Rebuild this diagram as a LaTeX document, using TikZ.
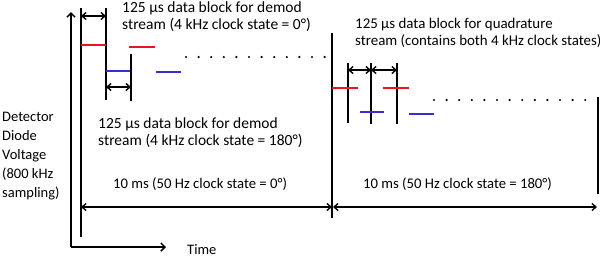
\documentclass[tikz,border=0pt]{standalone}
\usepackage{fontspec}
\setmainfont{Carlito}
\usetikzlibrary{arrows.meta}
\definecolor{sigred}{HTML}{E8141E}
\definecolor{sigblue}{HTML}{3A2DD0}
\begin{document}
\begin{tikzpicture}[x=1pt,y=-1pt,
  axis/.style={line width=1.5pt,black},
  bar/.style={line width=1.6pt,black},
  dimarrow/.style={line width=1.4pt,black,{Straight Barb[length=4pt,width=7pt]}-{Straight Barb[length=4pt,width=7pt]}},
  redlvl/.style={line width=2.6pt,sigred},
  bluelvl/.style={line width=2.6pt,sigblue},
  dots/.style={line width=2.4pt,line cap=round,dash pattern=on 0pt off 12.6pt},
  lbl/.style={anchor=base west,inner sep=0pt,align=left,font=\fontsize{14.5}{17}\selectfont},
  biglbl/.style={lbl,font=\fontsize{15.5}{16.5}\selectfont}]
\useasboundingbox (0,0) rectangle (600,258);
% axes
\coordinate (origin) at (71,247);
\coordinate (ytip) at (71,12);
\coordinate (xtip) at (166,247);
\draw[axis,-{Straight Barb[length=4pt,width=8pt]}] (origin) -- (ytip);
\draw[axis,-{Straight Barb[length=4pt,width=8pt]}] (origin) -- (xtip);
\node[lbl] (time) at (187,254) {Time};
\node[lbl,font=\fontsize{14.5}{18.8}\selectfont] (ylab) at (2,197) {Detector\\Diode\\Voltage\\(800 kHz\\sampling)};
% main vertical lines
\coordinate (s0t) at (81,8);   \coordinate (s0b) at (81,237);
\coordinate (divt) at (332,33); \coordinate (divb) at (332,218);
\coordinate (endt) at (598,97); \coordinate (endb) at (598,194);
\draw[bar] (s0t) -- (s0b);
\draw[bar] (divt) -- (divb);
\draw[bar] (endt) -- (endb);
% 10 ms arrows
\coordinate (a0) at (81,207); \coordinate (a1) at (332,207);
\coordinate (a2) at (333,207); \coordinate (a3) at (597,207);
\draw[dimarrow] (a0) -- (a1);
\draw[dimarrow] (a2) -- (a3);
\node[lbl,font=\fontsize{14.7}{17}\selectfont] (t10a) at (113,188) {10 ms (50 Hz clock state = 0°)};
\node[lbl,font=\fontsize{14.7}{17}\selectfont] (t10b) at (363,188) {10 ms (50 Hz clock state = 180°)};
% left section
\coordinate (l1t) at (106,8); \coordinate (l1b) at (106,100);
\coordinate (l2t) at (131,54); \coordinate (l2b) at (131,101);
\draw[bar] (l1t) -- (l1b);
\draw[bar] (l2t) -- (l2b);
\draw[dimarrow] (81,16) -- (106,16);
\draw[dimarrow] (106,87) -- (131,87);
\draw[redlvl] (81,45) -- (106,45);
\draw[redlvl] (129,47) -- (155,47);
\draw[bluelvl] (106,71) -- (130,71);
\draw[bluelvl] (156,72) -- (181,72);
\draw[dots] (186,57) -- (330,57);
\node[biglbl] (tdem0) at (122,29) {125 µs data block for demod\\stream (4 kHz clock state = 0°)};
\node[biglbl] (tdem1) at (98,145) {125 µs data block for demod\\stream (4 kHz clock state = 180°)};
% right section
\coordinate (r1t) at (348,63); \coordinate (r1b) at (348,123);
\coordinate (r2t) at (371,63); \coordinate (r2b) at (371,124);
\coordinate (r3t) at (397,63); \coordinate (r3b) at (397,124);
\draw[bar] (r1t) -- (r1b);
\draw[bar] (r2t) -- (r2b);
\draw[bar] (r3t) -- (r3b);
\draw[dimarrow] (348,70) -- (371,70);
\draw[dimarrow] (371,70) -- (397,70);
\draw[redlvl] (332,88) -- (358,88);
\draw[redlvl] (383,88) -- (409,88);
\draw[bluelvl] (360,112) -- (384,112);
\draw[bluelvl] (409,114) -- (434,114);
\draw[dots] (434,100) -- (592,100);
\node[lbl,font=\fontsize{14.9}{16.8}\selectfont] (tquad) at (355,45) {125 µs data block for quadrature\\stream (contains both 4 kHz clock states)};
\end{tikzpicture}
\end{document}
